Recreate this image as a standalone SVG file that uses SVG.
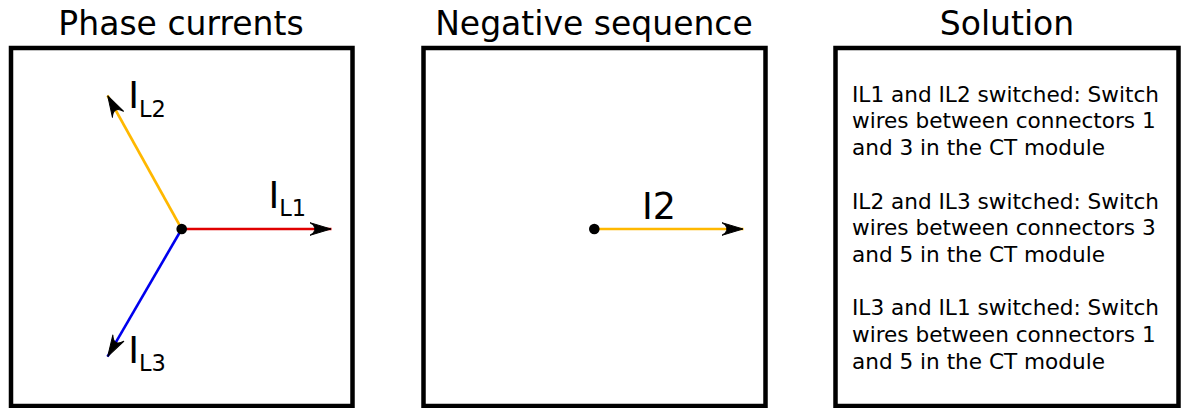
<svg xmlns="http://www.w3.org/2000/svg" width="1183" height="408" viewBox="0 0 1183 408">
<style>
.frame{fill:#fff;stroke:#000;stroke-width:4.5}
.title{font-family:"DejaVu Sans",sans-serif;font-size:33px;fill:#000;text-anchor:middle}
.lbl{font-family:"DejaVu Sans",sans-serif;font-size:36.5px;fill:#000}
.sub{font-size:22.5px}
.body{font-family:"DejaVu Sans",sans-serif;font-size:21.6px;fill:#000}
.vec{stroke-width:2.6;fill:none;marker-end:url(#arr)}
</style>
<defs>
<marker id="arr" markerUnits="userSpaceOnUse" viewBox="-24 -9 26 18" markerWidth="26" markerHeight="18" refX="0" refY="0" orient="auto">
<path d="M-0.5,0 L-21.5,-6.3 C-15,-2.3 -15,2.3 -21.5,6.3 Z" fill="#000" stroke="#000" stroke-width="1" stroke-linejoin="round"/>
</marker>
</defs>
<rect width="1183" height="408" fill="#fff"/>
<g id="panel-phase">
<text class="title" x="181" y="35">Phase currents</text>
<rect class="frame" x="11" y="48" width="341.5" height="358"/>
</g>
<g id="panel-negative">
<text class="title" x="594" y="35">Negative sequence</text>
<rect class="frame" x="423.5" y="48" width="342" height="358"/>
</g>
<g id="panel-solution">
<text class="title" x="1007" y="35">Solution</text>
<rect class="frame" x="835.5" y="48" width="343" height="358"/>
<text class="body">
<tspan x="852" y="101.7">IL1 and IL2 switched: Switch</tspan>
<tspan x="852" y="128.4">wires between connectors 1</tspan>
<tspan x="852" y="155.1">and 3 in the CT module</tspan>
<tspan x="852" y="208.5">IL2 and IL3 switched: Switch</tspan>
<tspan x="852" y="235.2">wires between connectors 3</tspan>
<tspan x="852" y="261.9">and 5 in the CT module</tspan>
<tspan x="852" y="315.3">IL3 and IL1 switched: Switch</tspan>
<tspan x="852" y="342">wires between connectors 1</tspan>
<tspan x="852" y="368.7">and 5 in the CT module</tspan>
</text>
</g>
<g id="connectors">
<line class="vec" x1="181.7" y1="229" x2="331.5" y2="229" stroke="#e00000"/>
<line class="vec" x1="181.7" y1="229" x2="107.5" y2="95.5" stroke="#ffb800"/>
<line class="vec" x1="181.7" y1="229" x2="107.5" y2="356.7" stroke="#0000ee"/>
<line class="vec" x1="594.3" y1="229" x2="743.5" y2="229" stroke="#ffb800"/>
</g>
<g id="origin-phase"><circle cx="181.7" cy="229" r="5.3" fill="#000"/></g>
<g id="origin-negative"><circle cx="594.3" cy="229" r="5.3" fill="#000"/></g>
<g id="label-IL1"><text class="lbl" x="268.5" y="208">I<tspan class="sub" dy="8.3">L1</tspan></text></g>
<g id="label-IL2"><text class="lbl" x="128.2" y="108.3">I<tspan class="sub" dy="8.3">L2</tspan></text></g>
<g id="label-IL3"><text class="lbl" x="128.3" y="363">I<tspan class="sub" dy="8.3">L3</tspan></text></g>
<g id="label-I2"><text class="lbl" x="642" y="219">I2</text></g>
</svg>
